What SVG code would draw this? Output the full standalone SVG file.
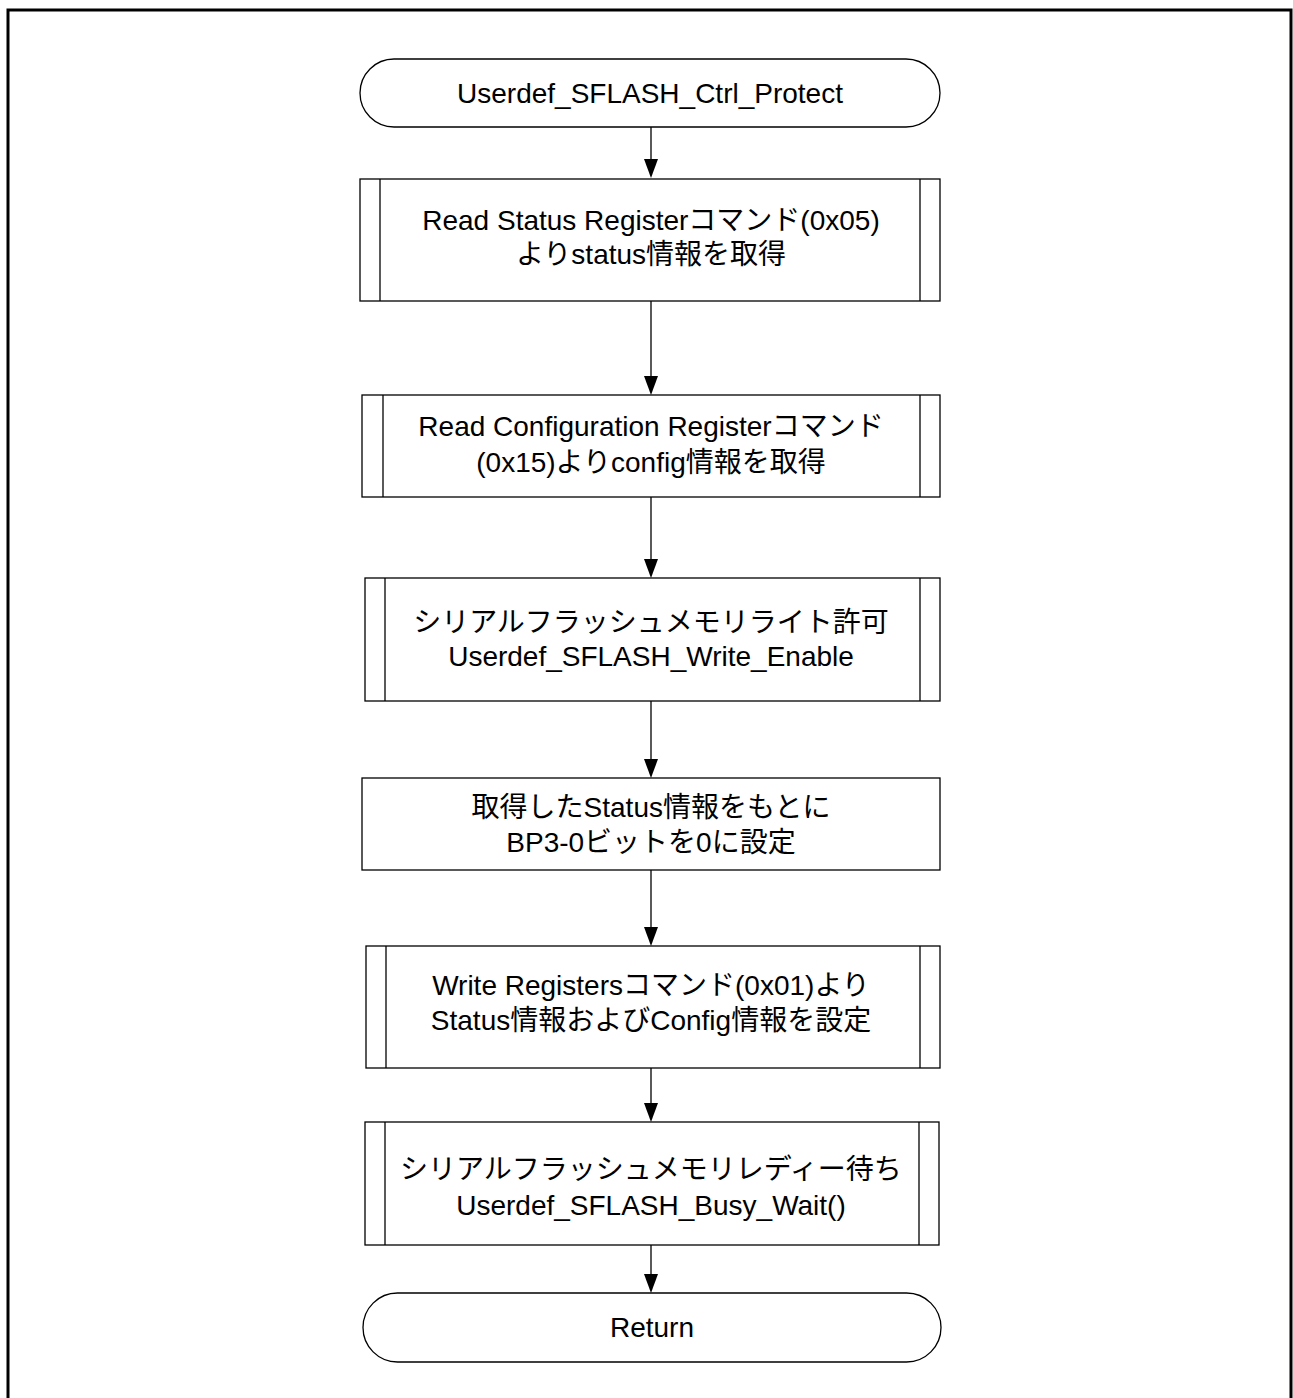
<svg xmlns="http://www.w3.org/2000/svg" width="1293" height="1398" viewBox="0 0 1293 1398">
<defs>
<style>
.frame{fill:none;stroke:#000;stroke-width:3}
.shape{fill:#fff;stroke:#000;stroke-width:1.3}
.sub{fill:none;stroke:#000;stroke-width:1.3}
.conn{fill:none;stroke:#000;stroke-width:1.3}
.head{fill:#000}
text{font-family:"Liberation Sans","Noto Sans CJK JP",Arial,sans-serif;font-size:28px;fill:#000;text-anchor:middle}
</style>
</defs>
<rect width="1293" height="1398" fill="#fff"/>
<rect class="frame" x="8" y="10" width="1283" height="1420"/>

<g id="connectors">
<line class="conn" x1="651" y1="127" x2="651" y2="159"/>
<path class="head" d="M644,159 L658,159 L651,178 Z"/>
<line class="conn" x1="651" y1="301" x2="651" y2="376"/>
<path class="head" d="M644,376 L658,376 L651,395 Z"/>
<line class="conn" x1="651" y1="497" x2="651" y2="559"/>
<path class="head" d="M644,559 L658,559 L651,578 Z"/>
<line class="conn" x1="651" y1="701" x2="651" y2="759"/>
<path class="head" d="M644,759 L658,759 L651,778 Z"/>
<line class="conn" x1="651" y1="870" x2="651" y2="927"/>
<path class="head" d="M644,927 L658,927 L651,946 Z"/>
<line class="conn" x1="651" y1="1068" x2="651" y2="1103"/>
<path class="head" d="M644,1103 L658,1103 L651,1122 Z"/>
<line class="conn" x1="651" y1="1245" x2="651" y2="1274"/>
<path class="head" d="M644,1274 L658,1274 L651,1293 Z"/>
</g>

<g id="start">
<rect class="shape" x="360" y="59" width="580" height="68" rx="34" ry="34"/>
<text x="650" y="103">Userdef_SFLASH_Ctrl_Protect</text>
</g>

<g id="read-status">
<rect class="shape" x="360" y="179" width="580" height="122"/>
<line class="sub" x1="380" y1="179" x2="380" y2="301"/>
<line class="sub" x1="920" y1="179" x2="920" y2="301"/>
<text x="651" y="230">Read Status Registerコマンド(0x05)</text>
<text x="651" y="264">よりstatus情報を取得</text>
</g>

<g id="read-config">
<rect class="shape" x="362" y="395" width="578" height="102"/>
<line class="sub" x1="383" y1="395" x2="383" y2="497"/>
<line class="sub" x1="920" y1="395" x2="920" y2="497"/>
<text x="651" y="436">Read Configuration Registerコマンド</text>
<text x="651" y="472">(0x15)よりconfig情報を取得</text>
</g>

<g id="write-enable">
<rect class="shape" x="365" y="578" width="575" height="123"/>
<line class="sub" x1="385" y1="578" x2="385" y2="701"/>
<line class="sub" x1="920" y1="578" x2="920" y2="701"/>
<text x="651" y="632">シリアルフラッシュメモリライト許可</text>
<text x="651" y="666">Userdef_SFLASH_Write_Enable</text>
</g>

<g id="set-bp">
<rect class="shape" x="362" y="778" width="578" height="92"/>
<text x="651" y="817">取得したStatus情報をもとに</text>
<text x="651" y="852">BP3-0ビットを0に設定</text>
</g>

<g id="write-registers">
<rect class="shape" x="366" y="946" width="574" height="122"/>
<line class="sub" x1="386" y1="946" x2="386" y2="1068"/>
<line class="sub" x1="920" y1="946" x2="920" y2="1068"/>
<text x="651" y="995">Write Registersコマンド(0x01)より</text>
<text x="651" y="1030">Status情報およびConfig情報を設定</text>
</g>

<g id="busy-wait">
<rect class="shape" x="365" y="1122" width="574" height="123"/>
<line class="sub" x1="385" y1="1122" x2="385" y2="1245"/>
<line class="sub" x1="919" y1="1122" x2="919" y2="1245"/>
<text x="651" y="1179">シリアルフラッシュメモリレディー待ち</text>
<text x="651" y="1215">Userdef_SFLASH_Busy_Wait()</text>
</g>

<g id="return">
<rect class="shape" x="363" y="1293" width="578" height="69" rx="34.5" ry="34.5"/>
<text x="652" y="1337">Return</text>
</g>
</svg>
